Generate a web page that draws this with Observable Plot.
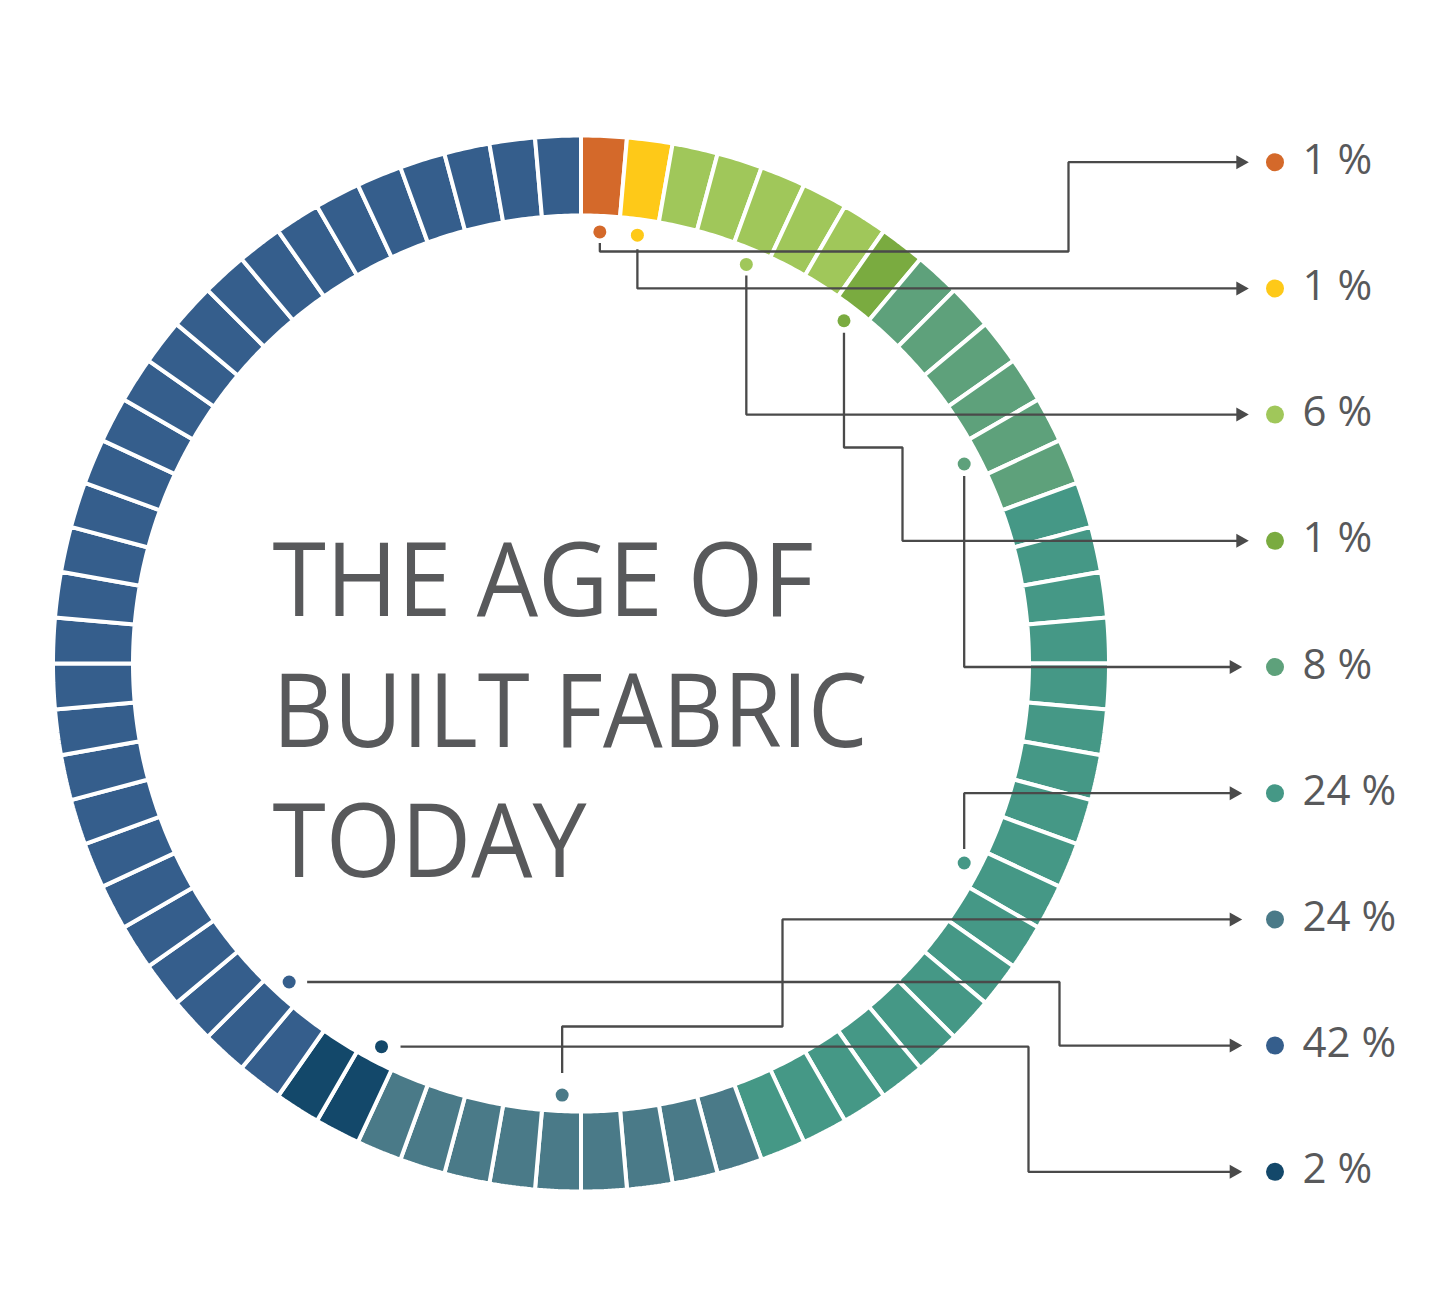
<!DOCTYPE html>
<html>
<head>
<meta charset="utf-8">
<script src="https://cdn.jsdelivr.net/npm/d3@7"></script>
<script src="https://cdn.jsdelivr.net/npm/@observablehq/plot@0.6"></script>
<style>
  html, body { margin: 0; padding: 0; background: #ffffff; }
  #chart svg { display: block; }
</style>
</head>
<body>
<div id="chart"></div>
<script>
// ---------------- DATA ----------------
// Categories in legend order (top to bottom on the right side)
const shareLabels   = ["1 %", "1 %", "6 %", "1 %", "8 %", "24 %", "24 %", "42 %", "2 %"];
const shares        = [1, 1, 6, 1, 8, 24, 24, 42, 2];
const colors        = ["#d4692a", "#fec918", "#a0c75a", "#7aab40", "#5ea17b", "#459886", "#4a7a88", "#355e8c", "#13486a"];
// number of ring segments drawn for each category (72 segments in total)
const segmentCounts = [1, 1, 5, 1, 6, 18, 9, 29, 2];
// order of the categories clockwise around the ring, starting at 12 o'clock
const ringOrder     = [0, 1, 2, 3, 4, 5, 6, 8, 7];
// which segment of each category carries the marker dot
const anchorSegment = [0, 0, 2, 0, 4, 9, 4, 1, 0];
const titleLines    = ["THE AGE OF", "BUILT FABRIC", "TODAY"];

// ---------------- LAYOUT ----------------
const W = 1452, H = 1315;
const CX = 580.5, CY = 663;          // ring centre (px)
const R = 526, RI = 450, GAP = 4;    // outer / inner radius, white gap
const DOT_R = 432;                   // radius of the marker dots
const ROW0 = 161.7, ROWSTEP = 126.2; // legend rows
const ARROW_L = 12.5, ARROW_HW = 7;
const LEG_DOT_X = 1274.5, LEG_TEXT_X = 1302;
const TITLE_X = 272, TITLE_BASE0 = 615.7, TITLE_STEP = 130.5, TITLE_FS = 103;
const TITLE_LEN = [541, 595, 314];
const LABEL_FS = 42;
const INK = "#58595b", LINE = "#4a4a4a";

// connector routes: first direction, gap from dot, intermediate bend coordinates
const routes = [
  {dir: "v", gap: 11, via: [251, 1068]},
  {dir: "v", gap: 14, via: []},
  {dir: "v", gap: 11, via: []},
  {dir: "v", gap: 12, via: [447, 902]},
  {dir: "v", gap: 12, via: []},
  {dir: "v", gap: 14, via: []},
  {dir: "v", gap: 22, via: [1026, 782]},
  {dir: "h", gap: 18, via: [1059]},
  {dir: "h", gap: 19, via: [1028]}
];

const ux = px => (px - CX) / R;
const uy = py => (CY - py) / R;
const rowY = i => ROW0 + i * ROWSTEP;
const tipX = i => (i < 4 ? 1248.3 : 1241.7);
const rad = a => a * Math.PI / 180;

// ---------------- DERIVED GEOMETRY ----------------
const total = d3.sum(segmentCounts);
const pitch = 360 / total;
const starts = [];
{ let s = 0; for (const c of ringOrder) { starts[c] = s; s += segmentCounts[c]; } }

const segPts = [];
const N = 12;
for (const c of ringOrder) {
  for (let k = 0; k < segmentCounts[c]; k++) {
    const id = starts[c] + k;
    const a0 = id * pitch, a1 = (id + 1) * pitch;
    const ro = (R + GAP / 2) / R, ri = (RI - GAP / 2) / R;
    const pts = [];
    for (let j = 0; j <= N; j++) { const a = rad(a0 + (a1 - a0) * j / N); pts.push([ro * Math.sin(a), ro * Math.cos(a)]); }
    for (let j = N; j >= 0; j--) { const a = rad(a0 + (a1 - a0) * j / N); pts.push([ri * Math.sin(a), ri * Math.cos(a)]); }
    pts.push(pts[0]);
    for (const [x, y] of pts) segPts.push({id, color: colors[c], x, y});
  }
}

// marker dots inside the ring (px)
const markers = shares.map((v, i) => {
  const a = rad((starts[i] + anchorSegment[i] + 0.5) * pitch);
  return {i, color: colors[i], px: CX + DOT_R * Math.sin(a), py: CY - DOT_R * Math.cos(a)};
});

// connector polylines
const linePts = [];
markers.forEach(m => {
  const rt = routes[m.i];
  const ry = rowY(m.i);
  const pts = [];
  let x = m.px, y = m.py;
  const vias = rt.via.slice();
  let orient = rt.dir;
  const firstTarget = vias.length ? vias[0] : ry;
  if (orient === "v") pts.push([x, y + Math.sign(firstTarget - y) * rt.gap]);
  else pts.push([x + Math.sign(firstTarget - x) * rt.gap, y]);
  while (vias.length) {
    const t = vias.shift();
    if (orient === "v") y = t; else x = t;
    pts.push([x, y]);
    orient = orient === "v" ? "h" : "v";
  }
  // final vertical to the row, then horizontal to the arrow
  y = ry; pts.push([x, y]);
  x = tipX(m.i) - ARROW_L + 1; pts.push([x, y]);
  for (const [px, py] of pts) linePts.push({i: m.i, x: ux(px), y: uy(py)});
});

// arrow heads
const arrowPts = [];
shares.forEach((v, i) => {
  const t = tipX(i), y = rowY(i);
  [[t, y], [t - ARROW_L, y - ARROW_HW], [t - ARROW_L, y + ARROW_HW], [t, y]]
    .forEach(([px, py]) => arrowPts.push({i, x: ux(px), y: uy(py)}));
});

const legend = shares.map((v, i) => ({i, label: shareLabels[i], color: colors[i], y: rowY(i)}));
const title = titleLines.map((t, i) => ({t, base: TITLE_BASE0 + i * TITLE_STEP}));

// ---------------- PLOT ----------------
const chart = Plot.plot({
  width: W,
  height: H,
  margin: 0,
  style: {fontFamily: "'Open Sans', 'Noto Sans', sans-serif", background: "#ffffff"},
  x: {type: "linear", domain: [ux(0), ux(W)], range: [0, W], axis: null},
  y: {type: "linear", domain: [uy(H), uy(0)], range: [H, 0], axis: null},
  color: {type: "identity"},
  marks: [
    Plot.line(segPts, {x: "x", y: "y", z: "id", fill: "color", stroke: "white", strokeWidth: GAP, strokeLinejoin: "miter", curve: "linear"}),
    Plot.line(linePts, {x: "x", y: "y", z: "i", stroke: LINE, strokeWidth: 2.3, strokeLinejoin: "miter", strokeLinecap: "butt", curve: "linear"}),
    Plot.line(arrowPts, {x: "x", y: "y", z: "i", fill: LINE, stroke: "none", curve: "linear"}),
    Plot.dot(markers, {x: d => ux(d.px), y: d => uy(d.py), r: 6.5, fill: "color", stroke: "none"}),
    Plot.dot(legend, {x: () => ux(LEG_DOT_X), y: d => uy(d.y), r: 9, fill: "color", stroke: "none"}),
    Plot.text(legend, {x: () => ux(LEG_TEXT_X), y: d => uy(d.y + 11.6 - 0.32 * LABEL_FS), text: "label", textAnchor: "start", fontSize: LABEL_FS, fill: INK}),
    Plot.text(title, {x: () => ux(TITLE_X), y: d => uy(d.base - 0.32 * TITLE_FS), text: "t", textAnchor: "start", fontSize: TITLE_FS, fill: INK})
  ]
});

chart.querySelectorAll("text").forEach(t => {
  const k = titleLines.indexOf(t.textContent);
  if (k >= 0) {
    t.setAttribute("textLength", TITLE_LEN[k]);
    t.setAttribute("lengthAdjust", "spacingAndGlyphs");
  }
});

document.getElementById("chart").appendChild(chart);
</script>
</body>
</html>
